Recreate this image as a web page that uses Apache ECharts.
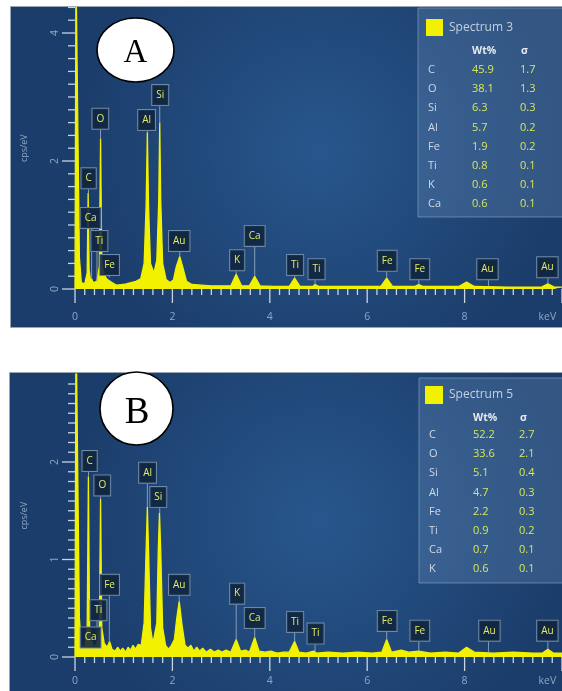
<!DOCTYPE html>
<html><head><meta charset="utf-8">
<script src="https://cdn.jsdelivr.net/npm/echarts@6/dist/echarts.min.js"></script>
<style>html,body{margin:0;padding:0;background:#fff}#c{width:562px;height:691px}</style>
</head><body><div id="c"></div>
<script>
// ---------- tick labels / tick positions ----------
const xTickLabels = [0, 2, 4, 6, 8];
const xUnitPos = 9.7;            // where "keV" sits on the axis
const xMajorTicks = [0, 2, 4, 6, 8, 10];
const xMinorTicks = [0.2,0.4,0.6,0.8,1,1.2,1.4,1.6,1.8,2.2,2.4,2.6,2.8,3,3.2,3.4,3.6,3.8,
  4.2,4.4,4.6,4.8,5,5.2,5.4,5.6,5.8,6.2,6.4,6.6,6.8,7,7.2,7.4,7.6,7.8,
  8.2,8.4,8.6,8.8,9,9.2,9.4,9.6,9.8];
const yTickLabelsA = [0, 2, 4];
const yMinorTicksA = [0.2,0.4,0.6,0.8,1,1.2,1.4,1.6,1.8,2.2,2.4,2.6,2.8,3,3.2,3.4,3.6,3.8,4.2,4.4];
const yTickLabelsB = [0, 1, 2];
const yMinorTicksB = [0.1,0.2,0.3,0.4,0.5,0.6,0.7,0.8,0.9,1.1,1.2,1.3,1.4,1.5,1.6,1.7,1.8,1.9,
  2.1,2.2,2.3,2.4,2.5,2.6,2.7,2.8];

// ---------- spectrum A (keV, cps/eV) ----------
const specA = [
 [0.00,0.00],[0.02,5.0],[0.06,5.0],[0.09,0.50],[0.13,0.10],[0.20,0.08],[0.25,0.25],[0.27,1.50],
 [0.29,0.30],[0.32,0.12],[0.34,0.16],[0.37,0.10],[0.45,0.12],[0.50,0.35],[0.525,2.35],[0.55,0.40],
 [0.60,0.22],[0.66,0.15],[0.70,0.18],[0.76,0.10],[0.85,0.06],[0.95,0.07],[1.05,0.08],[1.15,0.10],
 [1.25,0.12],[1.35,0.16],[1.42,0.40],[1.46,1.30],[1.486,2.45],[1.51,1.30],[1.55,0.40],[1.62,0.25],
 [1.68,0.45],[1.72,1.40],[1.74,2.60],[1.76,1.40],[1.80,0.40],[1.87,0.15],[1.95,0.10],[2.02,0.14],
 [2.08,0.35],[2.15,0.51],[2.21,0.35],[2.29,0.12],[2.40,0.07],[2.60,0.06],[2.80,0.05],[3.00,0.05],
 [3.20,0.05],[3.31,0.23],[3.42,0.05],[3.58,0.05],[3.69,0.20],[3.80,0.05],[4.10,0.04],[4.40,0.04],
 [4.51,0.17],[4.62,0.04],[4.88,0.04],[4.93,0.07],[5.00,0.04],[5.50,0.04],[6.00,0.04],[6.28,0.04],
 [6.40,0.17],[6.52,0.04],[6.98,0.04],[7.06,0.07],[7.14,0.04],[7.88,0.04],[8.04,0.11],[8.20,0.04],
 [8.90,0.03],[9.58,0.03],[9.71,0.08],[9.84,0.03],[10.0,0.03]
];

// ---------- spectrum B (keV, cps/eV) ----------
const specB = [
 [0.00,0.00],[0.02,3.5],[0.06,3.5],[0.09,0.40],[0.13,0.12],[0.20,0.10],[0.25,0.30],[0.275,1.85],
 [0.30,0.30],[0.33,0.12],[0.35,0.16],[0.38,0.10],[0.43,0.12],[0.46,0.15],[0.50,0.30],[0.525,1.62],
 [0.55,0.30],[0.60,0.14],[0.66,0.10],[0.71,0.16],[0.76,0.08],[0.82,0.06],[0.88,0.10],[0.93,0.06],
 [0.98,0.09],[1.04,0.05],[1.09,0.10],[1.14,0.07],[1.19,0.12],[1.24,0.08],[1.30,0.13],[1.36,0.12],
 [1.42,0.35],[1.46,1.10],[1.486,1.54],[1.51,1.10],[1.55,0.30],[1.60,0.14],[1.68,0.35],[1.71,1.10],
 [1.735,1.48],[1.76,1.10],[1.80,0.30],[1.86,0.12],[1.92,0.08],[1.98,0.12],[2.04,0.18],[2.09,0.40],
 [2.14,0.57],[2.20,0.32],[2.26,0.12],[2.32,0.09],[2.38,0.12],[2.44,0.06],[2.50,0.10],[2.56,0.06],
 [2.62,0.09],[2.70,0.05],[2.78,0.08],[2.86,0.05],[2.94,0.07],[3.02,0.05],[3.10,0.07],[3.20,0.05],
 [3.31,0.18],[3.40,0.06],[3.50,0.07],[3.58,0.05],[3.69,0.20],[3.78,0.06],[3.90,0.05],[4.02,0.06],
 [4.15,0.04],[4.28,0.05],[4.40,0.05],[4.51,0.16],[4.60,0.05],[4.75,0.04],[4.90,0.06],[4.96,0.04],
 [5.20,0.05],[5.50,0.04],[5.80,0.05],[6.10,0.04],[6.30,0.05],[6.40,0.18],[6.50,0.05],[6.70,0.07],
 [6.85,0.05],[7.06,0.06],[7.30,0.04],[7.60,0.05],[7.88,0.04],[8.04,0.10],[8.20,0.05],[8.60,0.04],
 [9.00,0.05],[9.40,0.04],[9.60,0.04],[9.71,0.08],[9.82,0.04],[10.0,0.04]
];

// ---------- peak labels: text, line energy, peak top, box energy, box level ----------
const labelTextA = ['C','Ca','Ti','Fe','O','Al','Si','Au','K','Ca','Ti','Ti','Fe','Fe','Au','Au'];
const labelLineA = [0.277,0.341,0.452,0.705,0.525,1.486,1.74,2.15,3.31,3.69,4.51,4.93,6.40,7.06,8.49,9.71];
const labelPeakA = [1.50,0.16,0.12,0.18,2.35,2.45,2.60,0.51,0.23,0.20,0.17,0.07,0.17,0.07,0.04,0.08];
const labelBoxXA = [0.28,0.32,0.50,0.71,0.52,1.47,1.75,2.14,3.33,3.69,4.52,4.96,6.41,7.08,8.47,9.70];
const labelBoxYA = [1.73,1.11,0.75,0.375,2.66,2.64,3.03,0.75,0.45,0.83,0.375,0.31,0.44,0.31,0.31,0.34];

const labelTextB = ['C','O','Fe','Ti','Ca','Al','Si','Au','K','Ca','Ti','Ti','Fe','Fe','Au','Au'];
const labelLineB = [0.277,0.525,0.705,0.452,0.341,1.486,1.74,2.14,3.31,3.69,4.51,4.93,6.40,7.06,8.49,9.71];
const labelPeakB = [1.85,1.62,0.16,0.12,0.16,1.54,1.48,0.57,0.18,0.20,0.16,0.06,0.18,0.06,0.04,0.08];
const labelBoxXB = [0.30,0.56,0.71,0.48,0.32,1.49,1.71,2.14,3.33,3.69,4.52,4.94,6.41,7.08,8.51,9.70];
const labelBoxYB = [2.01,1.76,0.74,0.48,0.20,1.89,1.64,0.74,0.65,0.40,0.36,0.24,0.37,0.27,0.27,0.27];

// ---------- quantification tables ----------
const titleA = 'Spectrum 3';
const elemA  = ['C','O','Si','Al','Fe','Ti','K','Ca'];
const wtA    = ['45.9','38.1','6.3','5.7','1.9','0.8','0.6','0.6'];
const sigA   = ['1.7','1.3','0.3','0.2','0.2','0.1','0.1','0.1'];
const titleB = 'Spectrum 5';
const elemB  = ['C','O','Si','Al','Fe','Ti','Ca','K'];
const wtB    = ['52.2','33.6','5.1','4.7','2.2','0.9','0.7','0.6'];
const sigB   = ['2.7','2.1','0.4','0.3','0.3','0.2','0.1','0.1'];

// ---------- styling ----------
const FONT = '"Open Sans", "Noto Sans", sans-serif';
const YEL = '#f2f200';
const axisTxt = '#8ea6c6';
const tickCol = '#c9d4e2';

function labelRender(texts){
  return function(params, api){
    const i = params.dataIndex;
    const pk = api.coord([api.value(0), api.value(1)]);
    const bx = api.coord([api.value(2), api.value(3)]);
    const bottom = bx[1] + 11;
    const ch = [];
    if (pk[1] > bottom) {
      ch.push({type:'line', shape:{x1:pk[0], y1:bottom, x2:pk[0], y2:pk[1]},
               style:{stroke:'#9fb3c8', lineWidth:1, opacity:0.8}});
    }
    ch.push({type:'text', x:bx[0], y:bx[1], style:{
      text:texts[i], fill:'#e2ec6a', font:'10px ' + FONT, align:'center', verticalAlign:'middle',
      backgroundColor:'rgba(16,36,62,0.88)', borderColor:'#6f89a6', borderWidth:1, padding:[5,4]
    }});
    return {type:'group', children:ch};
  };
}
function zipLabels(lx, lp, bxs, bys){ return lx.map((v,i)=>[v, lp[i], bxs[i], bys[i]]); }

// tick marks drawn through the axes' own scales (kind: 0 x-major, 1 x-minor, 2 y-major, 3 y-minor)
function tickData(xMaj, xMin, yMaj, yMin){
  return [].concat(xMaj.map(v=>[v,0]), xMin.map(v=>[v,1]), yMaj.map(v=>[v,2]), yMin.map(v=>[v,3]));
}
function tickRender(params, api){
  const v = api.value(0), kind = api.value(1);
  let shape;
  if (kind < 2) {
    const p = api.coord([v, 0]); const len = kind === 0 ? 14 : 6;
    shape = {x1:p[0], y1:p[1], x2:p[0], y2:p[1] + len};
  } else {
    const p = api.coord([0, v]); const len = kind === 2 ? 13 : 7;
    shape = {x1:p[0] - len, y1:p[1], x2:p[0], y2:p[1]};
  }
  return {type:'line', shape:shape, style:{stroke:tickCol, lineWidth:1.3}};
}

function xAxisCfg(gi, margin){
  return {
    gridIndex: gi, type:'value', min:0, max:10, interval:2, position:'bottom',
    axisLine:{show:false}, axisTick:{show:false}, splitLine:{show:false},
    axisLabel:{customValues: xTickLabels.concat([xUnitPos]), margin: margin, color: axisTxt,
      fontSize:10.5, fontFamily: FONT,
      formatter: v => (v === xUnitPos ? 'keV' : String(v))}
  };
}
function yAxisCfg(gi, max, labels){
  return {
    gridIndex: gi, type:'value', min:0, max:max, position:'left',
    name:'cps/eV', nameLocation:'middle', nameGap:46,
    nameTextStyle:{color: axisTxt, fontSize:9, fontFamily: FONT},
    axisLine:{show:false}, axisTick:{show:false}, splitLine:{show:false},
    axisLabel:{customValues: labels, rotate:90, margin:14, color: axisTxt, fontSize:10.5, fontFamily: FONT}
  };
}

// panel background gradient
function panelFill(){
  return {type:'radial', x:0.55, y:0.45, r:0.75, colorStops:[
    {offset:0, color:'#28578d'}, {offset:1, color:'#1b3d6b'}]};
}
function legendEls(x0, y0, w, h, sq, title, hdrY, rowY0, elemX, wtX, sigX, elems, wts, sigs){
  const els = [];
  els.push({type:'rect', z:50, shape:{x:x0, y:y0, width:w, height:h},
            style:{fill:'rgba(110,145,190,0.30)', stroke:'rgba(150,175,205,0.55)', lineWidth:1}});
  els.push({type:'rect', z:51, shape:{x:sq[0], y:sq[1], width:sq[2], height:sq[2]}, style:{fill:YEL}});
  els.push({type:'text', z:51, x:sq[0]+sq[2]+6, y:sq[1]+sq[2]/2,
            style:{text:title, fill:'#c3d1e4', font:'12px ' + FONT, verticalAlign:'middle'}});
  els.push({type:'text', z:51, x:wtX, y:hdrY,
            style:{text:'Wt%', fill:'#e4eaf2', font:'bold 10.5px ' + FONT, verticalAlign:'middle'}});
  els.push({type:'text', z:51, x:sigX+1, y:hdrY,
            style:{text:'σ', fill:'#e4eaf2', font:'bold 10.5px ' + FONT, verticalAlign:'middle'}});
  elems.forEach((e,i)=>{
    const y = rowY0 + i*19.15;
    els.push({type:'text', z:51, x:elemX, y:y, style:{text:e, fill:'#cfd9e6', font:'11px ' + FONT, verticalAlign:'middle'}});
    els.push({type:'text', z:51, x:wtX, y:y, style:{text:wts[i], fill:'#d6e75a', font:'11px ' + FONT, verticalAlign:'middle'}});
    els.push({type:'text', z:51, x:sigX, y:y, style:{text:sigs[i], fill:'#d6e75a', font:'11px ' + FONT, verticalAlign:'middle'}});
  });
  return els;
}

const graphicEls = [
  {type:'rect', zlevel:-1, z:-10, shape:{x:10.5, y:6.5, width:560, height:321}, style:{fill:panelFill(), stroke:'#9aa6b2', lineWidth:1}},
  {type:'rect', zlevel:-1, z:-10, shape:{x:9.5, y:372.5, width:560, height:330}, style:{fill:panelFill(), stroke:'#9aa6b2', lineWidth:1}},
  ...legendEls(418, 8, 150, 209, [426,19,17], titleA, 51, 70, 428, 472, 520, elemA, wtA, sigA),
  ...legendEls(419, 378, 150, 205, [425,386,18], titleB, 418, 435, 429, 473, 519, elemB, wtB, sigB),
  {type:'ellipse', z:60, shape:{cx:135.5, cy:50, rx:38.5, ry:32}, style:{fill:'#ffffff', stroke:'#000', lineWidth:1.6}},
  {type:'text', z:61, x:135.5, y:53, style:{text:'A', fill:'#000', font:'33px "Liberation Serif", "DejaVu Serif", serif', align:'center', verticalAlign:'middle'}},
  {type:'ellipse', z:60, shape:{cx:136.5, cy:408.5, rx:36.5, ry:36.5}, style:{fill:'#ffffff', stroke:'#000', lineWidth:1.6}},
  {type:'text', z:61, x:137, y:413, style:{text:'B', fill:'#000', font:'37px "Liberation Serif", "DejaVu Serif", serif', align:'center', verticalAlign:'middle'}}
];

const chart = echarts.init(document.getElementById('c'), null, {renderer:'canvas'});
chart.setOption({
  animation:false,
  backgroundColor:'transparent',
  grid:[
    {left:75, width:496, top:7.4, height:281.6},
    {left:75, width:496, top:374.25, height:282.75}
  ],
  xAxis:[ xAxisCfg(0, 23), xAxisCfg(1, 19) ],
  yAxis:[ yAxisCfg(0, 4.4, yTickLabelsA), yAxisCfg(1, 2.9, yTickLabelsB) ],
  series:[
    {type:'line', xAxisIndex:0, yAxisIndex:0, data:specA, showSymbol:false, symbol:'none',
     lineStyle:{color:YEL, width:1.3}, areaStyle:{color:YEL, opacity:1}},
    {type:'line', xAxisIndex:1, yAxisIndex:1, data:specB, showSymbol:false, symbol:'none',
     lineStyle:{color:YEL, width:1.3}, areaStyle:{color:YEL, opacity:1}},
    {type:'custom', xAxisIndex:0, yAxisIndex:0, z:4, clip:false, silent:true,
     data: tickData(xMajorTicks, xMinorTicks, yTickLabelsA, yMinorTicksA), renderItem: tickRender},
    {type:'custom', xAxisIndex:1, yAxisIndex:1, z:4, clip:false, silent:true,
     data: tickData(xMajorTicks, xMinorTicks, yTickLabelsB, yMinorTicksB), renderItem: tickRender},
    {type:'custom', xAxisIndex:0, yAxisIndex:0, z:5, clip:false,
     data: zipLabels(labelLineA, labelPeakA, labelBoxXA, labelBoxYA), renderItem: labelRender(labelTextA)},
    {type:'custom', xAxisIndex:1, yAxisIndex:1, z:5, clip:false,
     data: zipLabels(labelLineB, labelPeakB, labelBoxXB, labelBoxYB), renderItem: labelRender(labelTextB)}
  ],
  graphic:{elements: graphicEls}
});
</script></body></html>
